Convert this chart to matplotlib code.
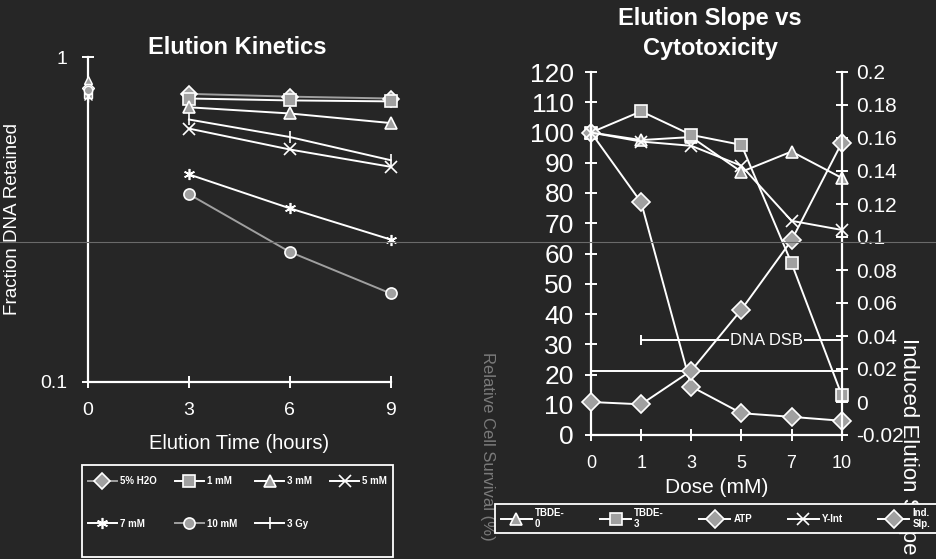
import matplotlib
matplotlib.use("Agg")
import matplotlib.pyplot as plt
from matplotlib.lines import Line2D
from matplotlib.patches import Rectangle
import numpy as np

plt.rcParams["font.family"] = ["Liberation Sans", "DejaVu Sans"]

BG = "#262626"
FG = "white"
GRAY = "#a0a0a0"
W, H = 936, 559

# ---- left panel: elution kinetics ----
hours = [3, 6, 9]
kin_labels = ["5% H2O", "1 mM", "3 mM", "5 mM", "7 mM", "10 mM", "3 Gy"]
kin_start = [0.80, 0.77, 0.85, 0.76, 0.78, 0.79, 0.75]
h2o = [0.77, 0.755, 0.745]
mm1 = [0.745, 0.735, 0.73]
mm3 = [0.70, 0.67, 0.626]
mm5 = [0.602, 0.519, 0.459]
mm7 = [0.435, 0.342, 0.274]
mm10 = [0.378, 0.251, 0.187]
gy3 = [0.642, 0.567, 0.481]
kin_series = [h2o, mm1, mm3, mm5, mm7, mm10, gy3]
kin_markers = ["D", "s", "^", "x", (6, 2, 0), "o", "|"]
kin_colors = [GRAY, FG, FG, FG, FG, GRAY, FG]

# ---- right panel: slope vs cytotoxicity ----
doses = ["0", "1", "3", "5", "7", "10"]
tbde0 = [100, 97.5, 98.5, 87, 93.7, 85]
tbde3 = [100, 107, 99.2, 95.9, 56.8, 13.2]
atp = [100, 76.9, 16, 7.2, 6, 4.7]
y_int = [100, 97, 95.6, 89, 70.8, 67.8]
ind_slp = [0.0, -0.0014, 0.019, 0.056, 0.098, 0.157]
dsb_level = 31.4
threshold = 21.3
right_ticks = [-0.02, 0, 0.02, 0.04, 0.06, 0.08, 0.1, 0.12, 0.14, 0.16, 0.18, 0.2]
right_ticklabels = ["-0.02", "0", "0.02", "0.04", "0.06", "0.08", "0.1",
                    "0.12", "0.14", "0.16", "0.18", "0.2"]


def px_box(x0, y0, x1, y1):
    # pixel box (top-left origin) -> figure fraction rect
    return (x0 / W, 1 - y1 / H, (x1 - x0) / W, (y1 - y0) / H)


def style_axis(ax, spines):
    ax.set_facecolor("none")
    for name, sp in ax.spines.items():
        sp.set_visible(name in spines)
        sp.set_color(FG)
        sp.set_linewidth(1.6)
    ax.tick_params(colors=FG, direction="inout", length=9, width=1.4)


def boxed_legend(fig, handles, labels, frame, place, ncol, **kw):
    fig.add_artist(Rectangle(frame[:2], frame[2], frame[3], transform=fig.transFigure,
                             facecolor=BG, edgecolor=FG, lw=1.3, zorder=5))
    leg = fig.legend(handles, labels, loc="center", bbox_to_anchor=place,
                     mode="expand", ncol=ncol, frameon=False, borderaxespad=0,
                     prop={"weight": "bold", "size": 7}, **kw)
    leg.set_zorder(6)
    for t in leg.get_texts():
        t.set_color(FG)
    return leg


fig = plt.figure(figsize=(9.36, 5.59), dpi=100, facecolor=BG)

# left axes
ax1 = fig.add_axes(px_box(88, 57, 390.7, 381.7))
style_axis(ax1, ["left", "bottom"])
ax1.set_yscale("log")
ax1.set_ylim(0.1, 1)
ax1.set_xlim(0, 9)
ax1.set_xticks([0, 3, 6, 9])
ax1.set_yticks([0.1, 1], labels=["0.1", "1"])
ax1.yaxis.set_minor_locator(matplotlib.ticker.NullLocator())
ax1.tick_params(labelsize=14)
ax1.tick_params(axis="x", pad=10)
ax1.tick_params(axis="y", pad=10)

handles = []
for lab, x0, vals, mk, col in zip(kin_labels, kin_start, kin_series, kin_markers, kin_colors):
    ax1.plot([0], [x0], marker=mk, color=col, markerfacecolor=GRAY,
             markeredgecolor=FG, markersize=6, clip_on=False, zorder=4)
    (ln,) = ax1.plot(hours, vals, marker=mk, color=col, lw=1.4, markersize=8,
                     markerfacecolor=GRAY, markeredgecolor=FG,
                     markeredgewidth=1.2, clip_on=False, zorder=3)
    handles.append(ln)

fig.text(237 / W, 1 - 36 / H, "Elution Kinetics", color=FG, fontsize=17,
         fontweight="bold", ha="center", va="top")
ax1.set_xlabel("Elution Time (hours)", color=FG, fontsize=14.5, labelpad=11)
ax1.set_ylabel("Fraction DNA Retained", color=FG, fontsize=13.6, labelpad=14)

# legend is filled column-wise, so reorder to read row-wise
order = [0, 4, 1, 5, 2, 6, 3]
boxed_legend(fig, [handles[i] for i in order], [kin_labels[i] for i in order],
             px_box(82, 465, 393, 557), px_box(84, 470, 391, 535), 4,
             handlelength=3.0, handletextpad=0.3, labelspacing=3.3,
             columnspacing=0.4)

# right axes
xpos = np.arange(len(doses))
ax2 = fig.add_axes(px_box(591, 72, 841.7, 435))
style_axis(ax2, ["left", "bottom"])
ax2.set_xlim(0, len(doses) - 1)
ax2.set_ylim(0, 120)
ax2.set_yticks(np.arange(0, 121, 10))
ax2.set_xticks(xpos, labels=doses)
ax2.tick_params(axis="y", labelsize=19, pad=8)
ax2.tick_params(axis="x", labelsize=13, pad=10)

ax3 = ax2.twinx()
style_axis(ax3, ["right"])
ax3.set_ylim(-0.02, 0.2)
ax3.set_yticks(right_ticks, labels=right_ticklabels)
ax3.tick_params(axis="y", labelsize=15, pad=6)

kw = dict(lw=1.4, markersize=9, markerfacecolor=GRAY, markeredgecolor=FG,
          markeredgewidth=1.2, color=FG, clip_on=False)
h_t0, = ax2.plot(xpos, tbde0, marker="^", **kw)
h_t3, = ax2.plot(xpos, tbde3, marker="s", **kw)
h_atp, = ax2.plot(xpos, atp, marker="D", **kw)
h_yi, = ax2.plot(xpos, y_int, marker="x", **kw)
h_is, = ax3.plot(xpos, ind_slp, marker="D", **kw)

ax2.hlines(threshold, xpos[0], xpos[-1], color=FG, lw=1.4)
ax2.hlines(dsb_level, xpos[1], xpos[-1], color=FG, lw=1.4)
ax2.vlines([xpos[1], xpos[-1]], dsb_level - 1.5, dsb_level + 1.5, color=FG, lw=1.4)
ax2.text(3.5, dsb_level, "DNA DSB", color=FG, fontsize=12, ha="center",
         va="center", bbox=dict(facecolor=BG, edgecolor="none", pad=1))

fig.text(710 / W, 1 - 7 / H, "Elution Slope vs\nCytotoxicity", color=FG,
         fontsize=17, fontweight="bold", ha="center", va="top", linespacing=1.4)
ax2.set_xlabel("Dose (mM)", color=FG, fontsize=15, labelpad=4)

fig.text(487 / W, 1 - 352 / H, "Relative Cell Survival (%)", color="#7a7a7a",
         rotation=270, fontsize=12, ha="center", va="top")
fig.text(908 / W, 1 - 338 / H, "Induced Elution Slope", color=FG, rotation=270,
         fontsize=16, ha="center", va="top", zorder=2)

boxed_legend(fig, [h_t0, h_t3, h_atp, h_yi, h_is],
             ["TBDE-\n0", "TBDE-\n3", "ATP", "Y-Int", "Ind.\nSlp."],
             px_box(495, 504, 942, 533), px_box(497, 504, 934, 533), 5,
             handlelength=3.2, handletextpad=0.3, columnspacing=0.3)

# faint scan line crossing the page
fig.add_artist(Line2D([0, 1], [1 - 242 / H] * 2, color="#6a6a6a", lw=0.8))

fig.savefig("out.png", dpi=100, facecolor=BG)
